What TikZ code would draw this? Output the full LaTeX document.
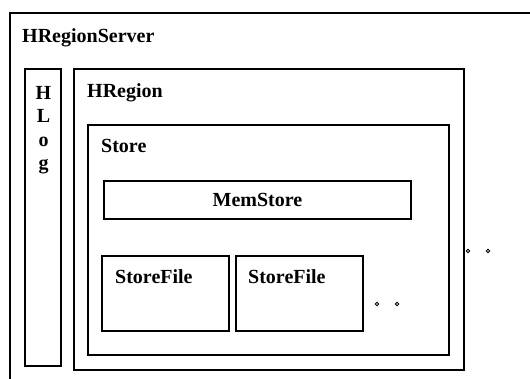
\documentclass[tikz,border=0pt]{standalone}
\usepackage{fontspec}
\setmainfont{Liberation Serif}
\begin{document}
\begin{tikzpicture}[x=1pt,y=-1pt,
    box/.style={draw, line width=1.2pt, rectangle, inner sep=0pt, outer sep=0pt, anchor=north west},
    lbl/.style={anchor=base west, inner sep=0pt, font=\fontsize{20}{24}\selectfont\bfseries},
    dot/.style={draw, circle, line width=0.9pt, inner sep=0pt, minimum size=3.6pt}]
    \useasboundingbox (0,0) rectangle (530,378);
    \clip (0,0) rectangle (530,378);
    % region server runs past the page edge
    \node[box, line width=2pt, minimum width=560pt, minimum height=400pt] (server) at (10,13) {};
    \node[lbl] (serverlbl) at ([xshift=12pt,yshift=-29pt]server.north west) {HRegionServer};
    \node[box, minimum width=36pt, minimum height=297pt] (hlog) at (25,69) {};
    \node[lbl, anchor=north, align=center, font=\fontsize{20}{23.5}\selectfont\bfseries] (hloglbl) at (43.5,86) {H\\L\\o\\g};
    \node[box, minimum width=390pt, minimum height=301pt] (hregion) at (74,69) {};
    \node[lbl] (hregionlbl) at ([xshift=13pt,yshift=-28pt]hregion.north west) {HRegion};
    \node[box, minimum width=361pt, minimum height=230pt] (store) at (88,125) {};
    \node[lbl] (storelbl) at ([xshift=13pt,yshift=-27pt]store.north west) {Store};
    \node[box, minimum width=307pt, minimum height=38pt, font=\fontsize{20}{24}\selectfont\bfseries] (memstore) at (104,181) {MemStore};
    \node[box, minimum width=127pt, minimum height=75pt] (sfone) at (102,256) {};
    \node[lbl] (sfonelbl) at ([xshift=13pt,yshift=-27pt]sfone.north west) {StoreFile};
    \node[box, minimum width=127pt, minimum height=75pt] (sftwo) at (236,256) {};
    \node[lbl] (sftwolbl) at ([xshift=12pt,yshift=-27pt]sftwo.north west) {StoreFile};
    % more store files, more regions
    \node[dot] (sfdota) at (377,304) {};
    \node[dot] (sfdotb) at (397,304) {};
    \node[dot] (rgdota) at (468,251) {};
    \node[dot] (rgdotb) at (488,251) {};
\end{tikzpicture}
\end{document}
